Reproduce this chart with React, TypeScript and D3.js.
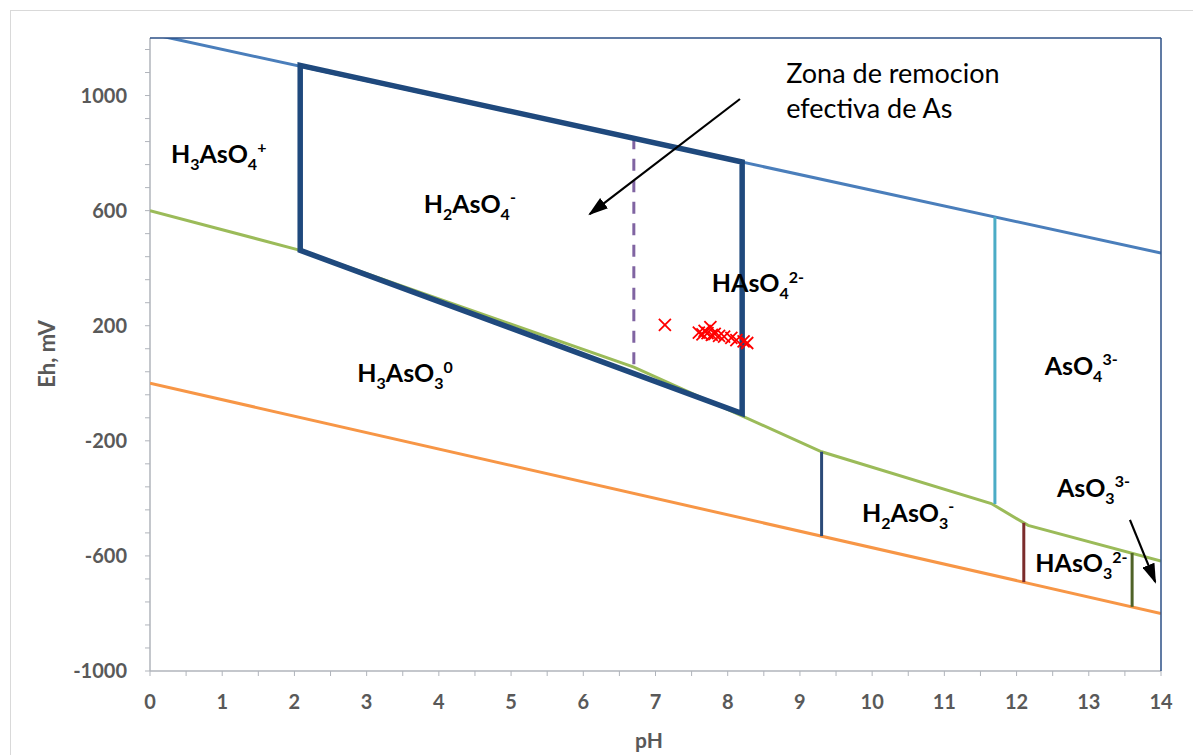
import React from 'react';
import * as d3 from 'd3';

// ---- axis definitions ----
const PH_MIN = 0;
const PH_MAX = 14;
const EH_MIN = -1000;
const EH_MAX = 1200;
const xTickLabels = [0, 1, 2, 3, 4, 5, 6, 7, 8, 9, 10, 11, 12, 13, 14];
const yTickLabels = [-1000, -600, -200, 200, 600, 1000];

// ---- series ----
const upperWaterPH = [0, 14];
const upperWaterEh = [1215, 453];
const lowerWaterPH = [0, 14];
const lowerWaterEh = [0, -800];
const boundaryPH = [0, 2.08, 6.7, 9.3, 11.65, 12.16, 14];
const boundaryEh = [600, 462, 56, -238, -418, -494, -618];
const boxPH = [2.08, 8.2, 8.2, 2.08];
const boxEh = [1105, 769, -105, 462];
const dashedPH = 6.7;
const dashedEh = [855, 56];
const verticalPH = [9.3, 11.7, 12.1, 13.6];
const verticalTop = [-238, 579, -485, -590];
const verticalBottom = [-531, -420, -691, -777];
const verticalColors = ['#2B4A78', '#4BACC6', '#7B2C2C', '#4F6228'];
const samplePH = [7.13, 7.6, 7.65, 7.68, 7.72, 7.76, 7.78, 7.82, 7.88, 7.95, 8.05, 8.12, 8.22, 8.27];
const sampleEh = [203, 176, 170, 182, 174, 195, 168, 172, 165, 162, 158, 150, 146, 140];

// ---- labels (data coordinates) ----
const speciesText = ['H_{3}AsO_{4}^{+}', 'H_{2}AsO_{4}^{-}', 'HAsO_{4}^{2-}', 'H_{3}AsO_{3}^{0}', 'AsO_{4}^{3-}', 'H_{2}AsO_{3}^{-}', 'HAsO_{3}^{2-}', 'AsO_{3}^{3-}'];
const speciesPH = [0.29, 3.79, 7.78, 2.87, 12.39, 9.86, 12.26, 12.56];
const speciesEh = [766, 592, 317, 4, 29, -482, -656, -395];
const noteLines = ['Zona de remocion', 'efectiva de As'];
const notePH = 8.81;
const noteEh = [1044, 922];
const arrowFromPH = [8.17, 13.57];
const arrowFromEh = [988, -475];
const arrowToPH = [6.09, 13.92];
const arrowToEh = [588, -690];

const W = 1193;
const H = 755;
const M = { left: 150, right: 1161, top: 38, bottom: 671 };
const FONT = 'Lato, "Open Sans", "Liberation Sans", sans-serif';

function parseRich(s: string) {
  const re = /([_^])\{([^}]*)\}|([^_^]+)/g;
  const out: { t: string; k: 'n' | 'sub' | 'sup' }[] = [];
  let m: RegExpExecArray | null;
  while ((m = re.exec(s))) {
    if (m[3]) out.push({ t: m[3], k: 'n' });
    else out.push({ t: m[2], k: m[1] === '_' ? 'sub' : 'sup' });
  }
  return out;
}

function RichText({ x, y, text, size }: { x: number; y: number; text: string; size: number }) {
  const parts = parseRich(text);
  let shift = 0;
  const small = size * 0.64;
  return (
    <text x={x} y={y} fontFamily={FONT} fontWeight={700} fontSize={size} fill="#000">
      {parts.map((p, i) => {
        const target = p.k === 'sub' ? size * 0.28 : p.k === 'sup' ? -size * 0.38 : 0;
        const dy = target - shift;
        shift = target;
        return (
          <tspan key={i} dy={dy} fontSize={p.k === 'n' ? size : small}>
            {p.t}
          </tspan>
        );
      })}
    </text>
  );
}

export default function App() {
  const x = d3.scaleLinear().domain([PH_MIN, PH_MAX]).range([M.left, M.right]);
  const y = d3.scaleLinear().domain([EH_MIN, EH_MAX]).range([M.bottom, M.top]);
  const line = d3
    .line<[number, number]>()
    .x((d) => x(d[0]))
    .y((d) => y(d[1]));
  const zip = (a: number[], b: number[]) => a.map((v, i) => [v, b[i]] as [number, number]);

  const minorY = d3.range(EH_MIN, EH_MAX + 1, 80);
  const minorX = d3.range(PH_MIN, PH_MAX + 0.01, 0.5);
  const axisColor = '#B0B4BB';
  const textGray = '#595959';

  return (
    <svg
      width={W}
      height={H}
      style={{ position: 'absolute', left: 0, top: 0, background: '#fff' }}
      xmlns="http://www.w3.org/2000/svg"
    >
      <defs>
        <clipPath id="plotclip">
          <rect x={M.left} y={M.top} width={M.right - M.left} height={M.bottom - M.top} />
        </clipPath>
        <marker id="arrowhead" viewBox="0 0 10 10" refX="9" refY="5" markerWidth="20" markerHeight="13" orient="auto" markerUnits="userSpaceOnUse" preserveAspectRatio="none">
          <path d="M0,0 L10,5 L0,10 z" fill="#000" />
        </marker>
      </defs>
      <rect x={0} y={0} width={W} height={H} fill="#fff" />
      <rect x={10.5} y={10.5} width={W + 20} height={H + 20} fill="none" stroke="#D9D9D9" strokeWidth={1} />

      {/* axes */}
      <line x1={M.left} x2={M.left} y1={M.top} y2={M.bottom} stroke={axisColor} strokeWidth={1.5} />
      <line x1={M.left} x2={M.right} y1={M.bottom} y2={M.bottom} stroke={axisColor} strokeWidth={1.5} />
      {minorY.map((v) => (
        <line key={'ty' + v} x1={M.left - 5} x2={M.left} y1={y(v)} y2={y(v)} stroke={axisColor} strokeWidth={1} />
      ))}
      {minorX.map((v) => (
        <line key={'tx' + v} x1={x(v)} x2={x(v)} y1={M.bottom} y2={M.bottom + 5} stroke={axisColor} strokeWidth={1} />
      ))}
      {yTickLabels.map((v) => (
        <text key={'ly' + v} x={127} y={y(v)} dy="0.36em" textAnchor="end" fontFamily={FONT} fontWeight={700} fontSize={20} fill={textGray}>
          {v}
        </text>
      ))}
      {xTickLabels.map((v) => (
        <text key={'lx' + v} x={x(v)} y={709} textAnchor="middle" fontFamily={FONT} fontWeight={700} fontSize={20} fill={textGray}>
          {v}
        </text>
      ))}
      <text x={649} y={748} textAnchor="middle" fontFamily={FONT} fontWeight={700} fontSize={21} fill={textGray}>
        pH
      </text>
      <text
        transform={`translate(55,${354}) rotate(-90)`}
        textAnchor="middle"
        fontFamily={FONT}
        fontWeight={700}
        fontSize={22}
        fill={textGray}
      >
        Eh, mV
      </text>

      <g clipPath="url(#plotclip)">
        <path d={line(zip(upperWaterPH, upperWaterEh)) || ''} fill="none" stroke="#4A7EBB" strokeWidth={3} />
        <path d={line(zip(lowerWaterPH, lowerWaterEh)) || ''} fill="none" stroke="#F79646" strokeWidth={3} />
        <path d={line(zip(boundaryPH, boundaryEh)) || ''} fill="none" stroke="#9BBB59" strokeWidth={3} />
      </g>
      {verticalPH.map((p, i) => (
        <line key={'v' + i} x1={x(p)} x2={x(p)} y1={y(verticalTop[i])} y2={y(verticalBottom[i])} stroke={verticalColors[i]} strokeWidth={3} />
      ))}
      <line x1={x(dashedPH)} x2={x(dashedPH)} y1={y(dashedEh[0])} y2={y(dashedEh[1])} stroke="#8064A2" strokeWidth={3} strokeDasharray="12,9.5" />
      <path d={(line(zip(boxPH, boxEh)) || '') + 'Z'} fill="none" stroke="#1F497D" strokeWidth={5.5} strokeLinejoin="miter" />

      {/* frame top & right */}
      <line x1={M.left} x2={M.right} y1={y(EH_MAX)} y2={y(EH_MAX)} stroke="#2B4F86" strokeWidth={1.5} />
      <line x1={x(PH_MAX)} x2={x(PH_MAX)} y1={y(EH_MAX)} y2={y(EH_MIN)} stroke="#2B4F86" strokeWidth={1.5} />

      {/* samples */}
      {samplePH.map((p, i) => (
        <path
          key={'s' + i}
          transform={`translate(${x(p)},${y(sampleEh[i])})`}
          d="M-6,-6L6,6M-6,6L6,-6"
          stroke="#FF0000"
          strokeWidth={1.8}
          fill="none"
        />
      ))}

      {speciesText.map((t, i) => (
        <RichText key={'sp' + i} x={x(speciesPH[i])} y={y(speciesEh[i])} text={t} size={25} />
      ))}

      {noteLines.map((t, i) => (
        <text key={'n' + i} x={x(notePH)} y={y(noteEh[i])} fontFamily={FONT} fontSize={27} fill="#000">
          {t}
        </text>
      ))}
      {arrowFromPH.map((p, i) => (
        <line
          key={'a' + i}
          x1={x(p)}
          y1={y(arrowFromEh[i])}
          x2={x(arrowToPH[i])}
          y2={y(arrowToEh[i])}
          stroke="#000"
          strokeWidth={2.2}
          markerEnd="url(#arrowhead)"
        />
      ))}
    </svg>
  );
}
